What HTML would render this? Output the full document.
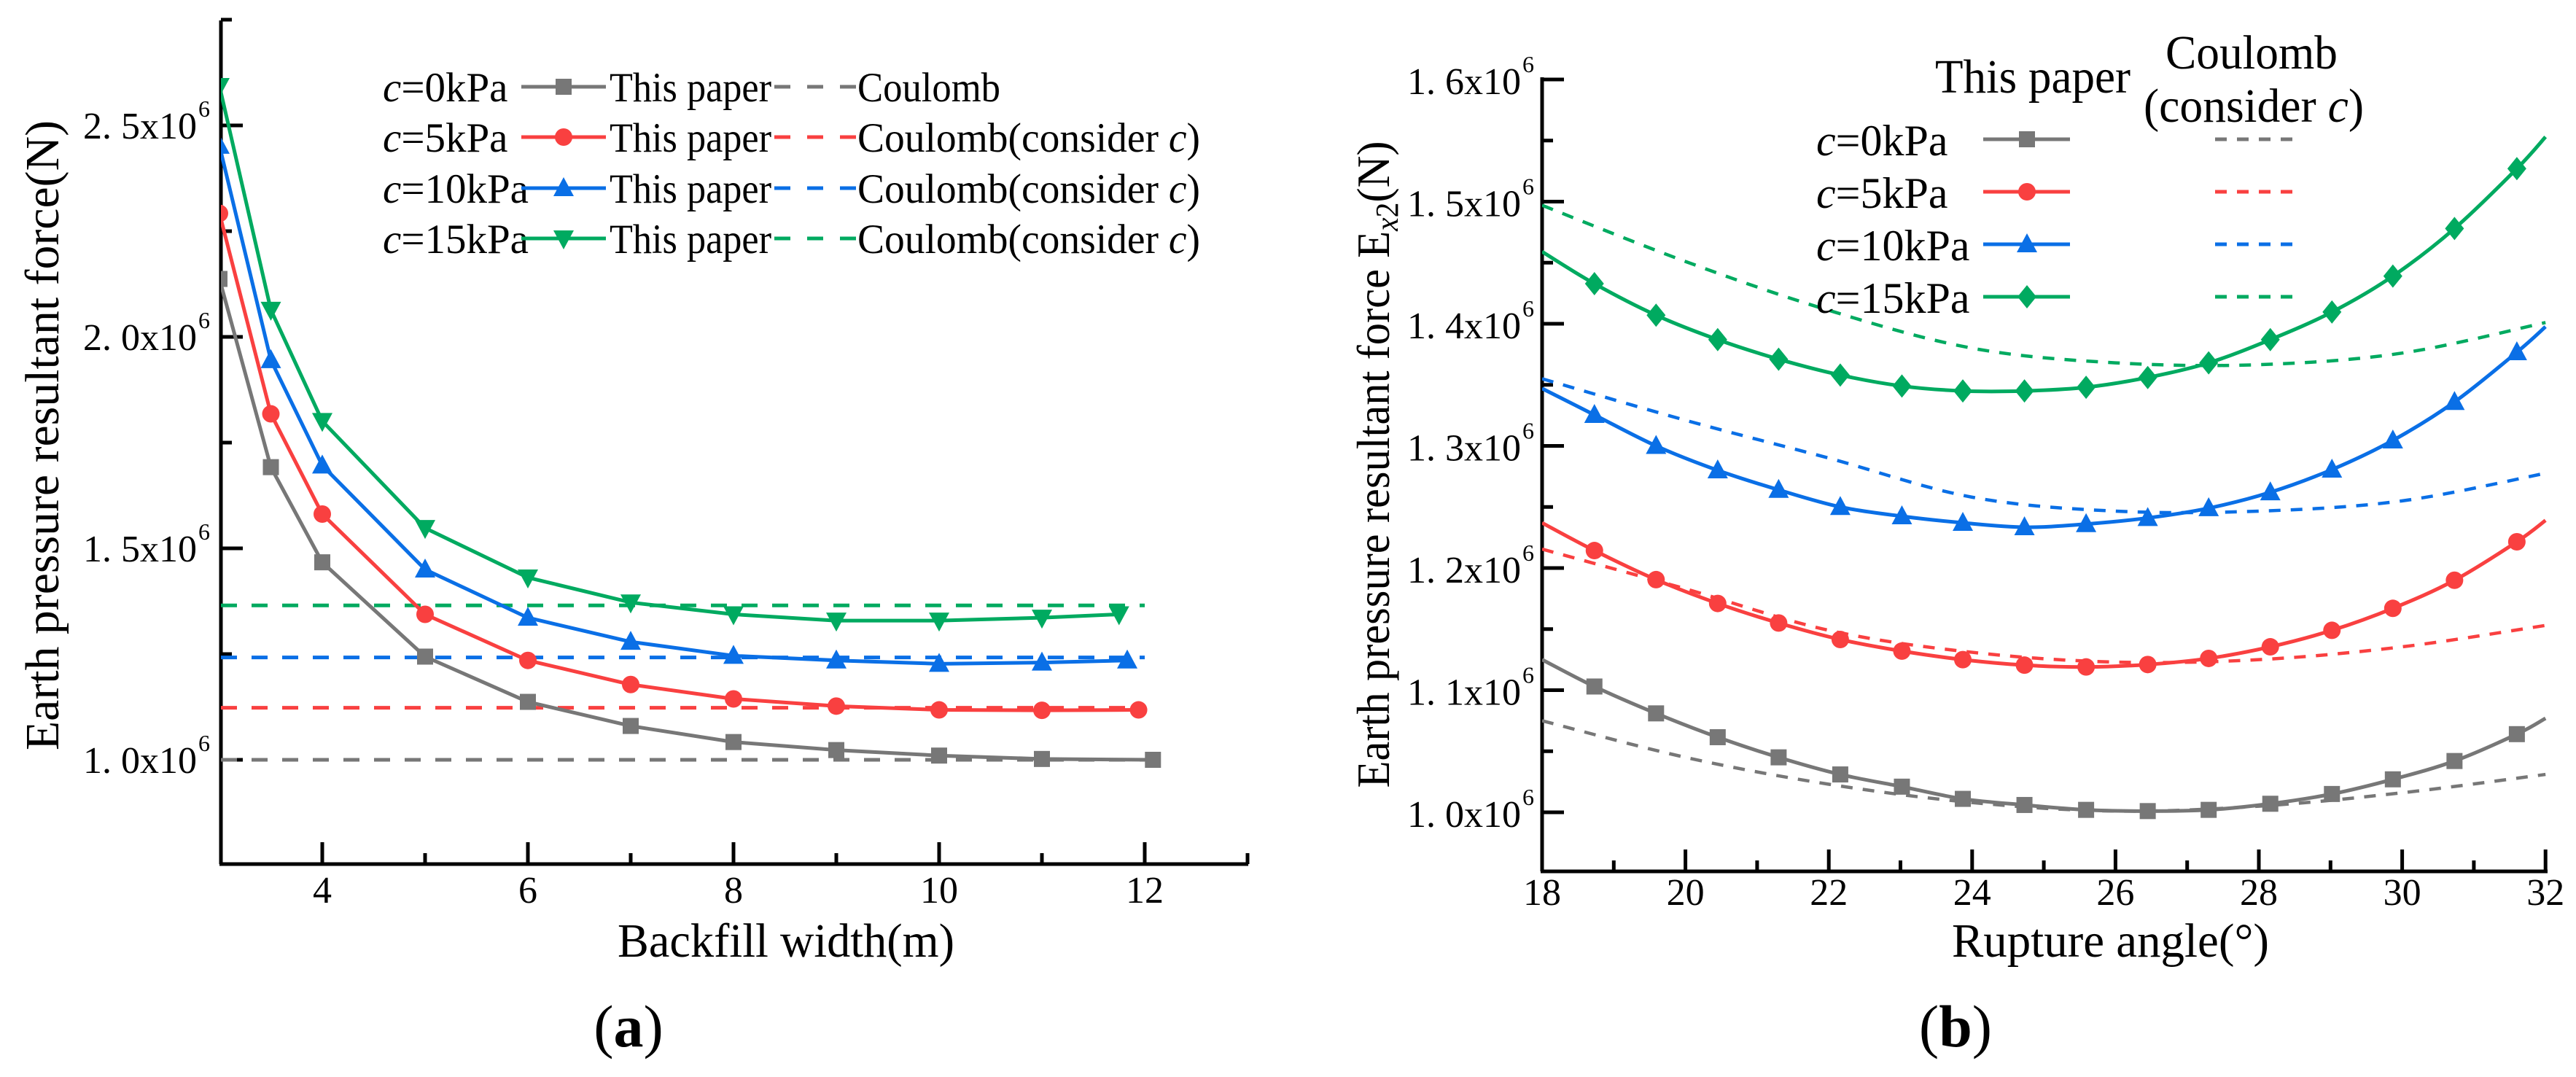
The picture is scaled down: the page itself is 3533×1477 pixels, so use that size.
<!DOCTYPE html>
<html><head><meta charset="utf-8"><style>
html,body{margin:0;padding:0;background:#fff}
svg{display:block}
text{font-family:"Liberation Serif",serif;fill:#000}
</style></head><body>
<svg id="fig" width="3533" height="1477" viewBox="0 0 3533 1477" xmlns="http://www.w3.org/2000/svg">
<defs>
<clipPath id="clipA"><rect x="303" y="28" width="1410" height="1157"/></clipPath>
<clipPath id="clipB"><rect x="2115" y="100" width="1380" height="1095"/></clipPath>
</defs>
<g id="panelA"></g>
<g id="panelB"></g>
</svg>
<script>
// ---------- Panel (a) data ----------
const aWidths = [3, 3.5, 4, 5, 6, 7, 8, 9, 10, 11];
const aGray  = [2.137, 1.692, 1.467, 1.244, 1.137, 1.08, 1.042, 1.023, 1.01, 1.002, 1.0];
const aRed   = [2.292, 1.818, 1.581, 1.344, 1.235, 1.178, 1.144, 1.127, 1.118, 1.117, 1.118];
const aBlue  = [2.452, 1.945, 1.696, 1.45, 1.336, 1.279, 1.246, 1.235, 1.227, 1.23, 1.235];
const aGreen = [2.593, 2.064, 1.801, 1.548, 1.431, 1.372, 1.344, 1.329, 1.329, 1.336, 1.344];
const aLastX = [12.08, 11.94, 11.83, 11.75];
const aCoulomb = [1.0, 1.123, 1.242, 1.365];
const aXTicks = [4, 6, 8, 10, 12];
const aYTicks = ["1.0", "1.5", "2.0", "2.5"];
// ---------- Panel (b) data ----------
const bAngles = [18.73, 19.59, 20.45, 21.3, 22.16, 23.02, 23.87, 24.73, 25.59, 26.45, 27.3, 28.16, 29.02, 29.87, 30.73, 31.6];
const bGray  = [1.103, 1.081, 1.0615, 1.045, 1.031, 1.021, 1.011, 1.006, 1.002, 1.001, 1.002, 1.007, 1.015, 1.027, 1.042, 1.064];
const bRed   = [1.2143, 1.1905, 1.171, 1.155, 1.1415, 1.132, 1.125, 1.1205, 1.119, 1.121, 1.126, 1.1355, 1.149, 1.167, 1.19, 1.2215];
const bBlue  = [1.3254, 1.300, 1.280, 1.264, 1.250, 1.2424, 1.237, 1.2334, 1.236, 1.241, 1.249, 1.262, 1.2806, 1.3045, 1.336, 1.3767];
const bGreen = [1.4328, 1.407, 1.387, 1.371, 1.358, 1.349, 1.345, 1.345, 1.348, 1.356, 1.368, 1.387, 1.4096, 1.439, 1.478, 1.527];
const bStart = [1.125, 1.237, 1.347, 1.459];
const bEnd   = [1.077, 1.239, 1.3976, 1.553];
const bDashX = [18, 20, 22, 24, 26, 28, 30, 32];
const bDashGray  = [1.075, 1.045, 1.023, 1.008, 1.001, 1.005, 1.016, 1.031];
const bDashRed   = [1.2155, 1.183, 1.149, 1.131, 1.123, 1.125, 1.1355, 1.153];
const bDashBlue  = [1.355, 1.321, 1.290, 1.258, 1.2466, 1.2466, 1.255, 1.2776];
const bDashGreen = [1.497, 1.451, 1.411, 1.380, 1.368, 1.3665, 1.376, 1.401];
const bXTicks = [18, 20, 22, 24, 26, 28, 30, 32];
const bYTicks = ["1.0", "1.1", "1.2", "1.3", "1.4", "1.5", "1.6"];
const seriesNames = ["c=0kPa", "c=5kPa", "c=10kPa", "c=15kPa"];

const COLORS = ["#777777", "#f94040", "#0a6fe6", "#00aa60"];
const NS = "http://www.w3.org/2000/svg";
function mk(tag, attrs, parent) {
  const e = document.createElementNS(NS, tag);
  for (const k in attrs) e.setAttribute(k, attrs[k]);
  parent.appendChild(e);
  return e;
}
// axis functions
const axA = { x: v => 301 + (v - 3) * 141, y: v => 1042 - (v - 1) * 580 };
const axB = { x: v => 2115 + (v - 18) * 98.3, y: v => 1114 - (v - 1) * 1675 };

function marker(kind, cx, cy, color, parent) {
  let m;
  if (kind === 0) m = mk("rect", { x: cx - 11, y: cy - 11, width: 22, height: 22, fill: color }, parent);
  else if (kind === 1) m = mk("circle", { cx: cx, cy: cy, r: 12, fill: color }, parent);
  else if (kind === 2) m = mk("polygon", { points: `${cx},${cy - 15} ${cx - 14},${cy + 11} ${cx + 14},${cy + 11}`, fill: color }, parent);
  else if (kind === 3) m = mk("polygon", { points: `${cx},${cy + 15} ${cx - 14},${cy - 11} ${cx + 14},${cy - 11}`, fill: color }, parent);
  else m = mk("polygon", { points: `${cx},${cy - 16} ${cx - 13},${cy} ${cx},${cy + 16} ${cx + 13},${cy}`, fill: color }, parent);
  return m;
}
function smoothPath(pts) {
  let d = `M${pts[0][0]},${pts[0][1]}`;
  for (let i = 0; i < pts.length - 1; i++) {
    const p0 = pts[Math.max(0, i - 1)], p1 = pts[i], p2 = pts[i + 1], p3 = pts[Math.min(pts.length - 1, i + 2)];
    const c1x = p1[0] + (p2[0] - p0[0]) / 6, c1y = p1[1] + (p2[1] - p0[1]) / 6;
    const c2x = p2[0] - (p3[0] - p1[0]) / 6, c2y = p2[1] - (p3[1] - p1[1]) / 6;
    d += ` C${c1x},${c1y} ${c2x},${c2y} ${p2[0]},${p2[1]}`;
  }
  return d;
}
function sci(parent, x, y, base, anchorRight) {
  const t = mk("text", { x: x, y: y, "font-size": 52, "text-anchor": "end" }, parent);
  t.textContent = base.replace(".", ". ") + "x10";
  const s = mk("text", { x: x + 2, y: y - 30, "font-size": 32 }, parent);
  s.textContent = "6";
  return t;
}

// ================= PANEL A =================
(function () {
  const g = document.getElementById("panelA");
  // axes
  const axes = mk("g", {}, g);
  
  
  mk("line", { x1: 303, y1: 28, x2: 303, y2: 1185, stroke: "#000", "stroke-width": 5 }, axes);
  mk("line", { x1: 301, y1: 1185, x2: 1712, y2: 1185, stroke: "#000", "stroke-width": 5 }, axes);
  for (let v = 4; v <= 13; v++) {
    const X = axA.x(v), L = v % 2 === 0 ? 30 : 15;
    mk("line", { x1: X, y1: 1185, x2: X, y2: 1185 - L, stroke: "#000", "stroke-width": 5 }, axes);
  }
  aXTicks.forEach(v => {
    const t = mk("text", { x: axA.x(v), y: 1238, "font-size": 52, "text-anchor": "middle" }, axes);
    
    
    t.textContent = String(v);
  });
  for (let v = 1.0; v <= 2.76; v += 0.25) {
    const Y = axA.y(v), L = Math.abs((v * 2) - Math.round(v * 2)) < 0.01 ? 30 : 15;
    mk("line", { x1: 303, y1: Y, x2: 303 + L, y2: Y, stroke: "#000", "stroke-width": 5 }, axes);
  }
  aYTicks.forEach(s => {
    const t = sci(axes, 270, axA.y(parseFloat(s)) + 18, s);
    
    
  });
  const yt = mk("text", { x: 0, y: 0, "font-size": 66, "text-anchor": "middle", transform: "translate(80,597) rotate(-90)", textLength: 864, lengthAdjust: "spacingAndGlyphs" }, g);
  
  
  yt.textContent = "Earth pressure resultant force(N)";
  const xt = mk("text", { x: 847, y: 1312, "font-size": 66, textLength: 462, lengthAdjust: "spacingAndGlyphs" }, g);
  
  
  xt.textContent = "Backfill width(m)";
  const cap = mk("text", { x: 862, y: 1435, "font-size": 82, "text-anchor": "middle" }, g);
  
  
  cap.innerHTML = '(<tspan font-weight="bold">a</tspan>)';

  const plot = mk("g", { "clip-path": "url(#clipA)" }, g);
  const all = [aGray, aRed, aBlue, aGreen];
  const kinds = [0, 1, 2, 3];
  // dashed Coulomb
  aCoulomb.forEach((v, i) => {
    const l = mk("line", { x1: 303, y1: axA.y(v), x2: axA.x(12), y2: axA.y(v), stroke: COLORS[i], "stroke-width": 5, "stroke-dasharray": "22 20" }, plot);
    
    
  });
  all.forEach((vals, i) => {
    const xs = aWidths.concat([aLastX[i]]);
    const pts = vals.map((v, j) => [axA.x(xs[j]), axA.y(v)]);
    const pl = mk("polyline", { points: pts.map(p => p.join(",")).join(" "), fill: "none", stroke: COLORS[i], "stroke-width": 5, "stroke-linejoin": "round" }, plot);
    
    
    pts.forEach(p => {
      const m = marker(kinds[i], p[0], p[1], COLORS[i], plot);
      
      
    });
  });
  // legend
  const lg = mk("g", {}, g);
  
  
  const rows = [119, 188, 258, 327];
  rows.forEach((ry, i) => {
    const ent = mk("g", {}, lg);
    
    
    const t = mk("text", { x: 525, y: ry + 20, "font-size": 57 }, ent);
    t.innerHTML = '<tspan font-style="italic">c</tspan>' + seriesNames[i].slice(1);
    mk("line", { x1: 715, y1: ry, x2: 831, y2: ry, stroke: COLORS[i], "stroke-width": 5 }, ent);
    marker(kinds[i], 773, ry, COLORS[i], ent);
    const tp = mk("text", { x: 836, y: ry + 20, "font-size": 57, textLength: 222, lengthAdjust: "spacingAndGlyphs" }, ent);
    tp.textContent = "This paper";
    mk("line", { x1: 1062, y1: ry, x2: 1174, y2: ry, stroke: COLORS[i], "stroke-width": 5, "stroke-dasharray": "22 23" }, ent);
    const tc = mk("text", { x: 1176, y: ry + 20, "font-size": 57 }, ent);
    if (i === 0) { tc.textContent = "Coulomb"; tc.setAttribute("textLength", 196); }
    else { tc.innerHTML = 'Coulomb(consider <tspan font-style="italic">c</tspan>)'; tc.setAttribute("textLength", 470); }
    tc.setAttribute("lengthAdjust", "spacingAndGlyphs");
  });
})();

// ================= PANEL B =================
(function () {
  const g = document.getElementById("panelB");
  const axes = mk("g", {}, g);
  
  
  mk("line", { x1: 2115, y1: 106, x2: 2115, y2: 1195, stroke: "#000", "stroke-width": 5 }, axes);
  mk("line", { x1: 2113, y1: 1195, x2: 3494, y2: 1195, stroke: "#000", "stroke-width": 5 }, axes);
  for (let v = 19; v <= 32; v++) {
    const X = axB.x(v), L = v % 2 === 0 ? 30 : 15;
    mk("line", { x1: X, y1: 1195, x2: X, y2: 1195 - L, stroke: "#000", "stroke-width": 5 }, axes);
  }
  bXTicks.forEach(v => {
    const t = mk("text", { x: axB.x(v), y: 1241, "font-size": 52, "text-anchor": "middle" }, axes);
    
    
    t.textContent = String(v);
  });
  for (let k = 0; k <= 12; k++) {
    const v = 1.0 + k * 0.05, Y = axB.y(v), L = k % 2 === 0 ? 30 : 15;
    mk("line", { x1: 2115, y1: Y, x2: 2115 + L, y2: Y, stroke: "#000", "stroke-width": 5 }, axes);
  }
  bYTicks.forEach(s => {
    const t = sci(axes, 2086, axB.y(parseFloat(s)) + 20, s);
    
    
  });
  const yt = mk("text", { x: 0, y: 0, "font-size": 64, "text-anchor": "middle", transform: "translate(1905,637) rotate(-90)", textLength: 887, lengthAdjust: "spacingAndGlyphs" }, g);
  
  
  yt.innerHTML = 'Earth pressure resultant force E<tspan font-size="44" font-style="italic" dy="12">x</tspan><tspan font-size="44" dy="0">2</tspan><tspan dy="-12">(N)</tspan>';
  const xt = mk("text", { x: 2677, y: 1312, "font-size": 66, textLength: 435, lengthAdjust: "spacingAndGlyphs" }, g);
  
  
  xt.textContent = "Rupture angle(°)";
  const cap = mk("text", { x: 2682, y: 1435, "font-size": 82, "text-anchor": "middle" }, g);
  
  
  cap.innerHTML = '(<tspan font-weight="bold">b</tspan>)';

  const plot = mk("g", { "clip-path": "url(#clipB)" }, g);
  const all = [bGray, bRed, bBlue, bGreen];
  const dash = [bDashGray, bDashRed, bDashBlue, bDashGreen];
  const kinds = [0, 1, 2, 4];
  dash.forEach((vals, i) => {
    const pts = vals.map((v, j) => [axB.x(bDashX[j]), axB.y(v)]);
    const p = mk("path", { d: smoothPath(pts), fill: "none", stroke: COLORS[i], "stroke-width": 4.5, "stroke-dasharray": "16 14" }, plot);
    
    
  });
  all.forEach((vals, i) => {
    const pts = [[axB.x(18), axB.y(bStart[i])]].concat(vals.map((v, j) => [axB.x(bAngles[j]), axB.y(v)])).concat([[axB.x(32), axB.y(bEnd[i])]]);
    const p = mk("path", { d: smoothPath(pts), fill: "none", stroke: COLORS[i], "stroke-width": 5 }, plot);
    
    
    vals.forEach((v, j) => {
      const m = marker(kinds[i], axB.x(bAngles[j]), axB.y(v), COLORS[i], plot);
      
      
    });
  });
  const lg = mk("g", {}, g);
  
  
  const h1 = mk("text", { x: 2654, y: 127, "font-size": 66, textLength: 268, lengthAdjust: "spacingAndGlyphs" }, lg);
  h1.textContent = "This paper";
  const h2 = mk("text", { x: 3088, y: 94, "font-size": 66, "text-anchor": "middle", textLength: 236, lengthAdjust: "spacingAndGlyphs" }, lg);
  h2.textContent = "Coulomb";
  const h3 = mk("text", { x: 3091, y: 167, "font-size": 66, "text-anchor": "middle", textLength: 302, lengthAdjust: "spacingAndGlyphs" }, lg);
  h3.innerHTML = '(consider <tspan font-style="italic">c</tspan>)';
  const rows = [191, 263, 335, 407];
  rows.forEach((ry, i) => {
    const ent = mk("g", {}, lg);
    
    
    const t = mk("text", { x: 2491, y: ry + 22, "font-size": 60 }, ent);
    t.innerHTML = '<tspan font-style="italic">c</tspan>' + seriesNames[i].slice(1);
    mk("line", { x1: 2720, y1: ry, x2: 2839, y2: ry, stroke: COLORS[i], "stroke-width": 5 }, ent);
    marker(kinds[i], 2780, ry, COLORS[i], ent);
    mk("line", { x1: 3038, y1: ry, x2: 3145, y2: ry, stroke: COLORS[i], "stroke-width": 5, "stroke-dasharray": "16 14" }, ent);
  });
})();
</script>
</body></html>
